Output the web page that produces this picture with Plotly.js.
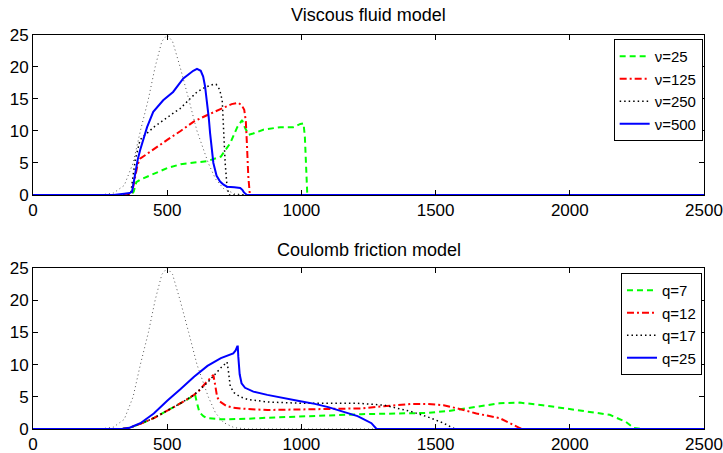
<!DOCTYPE html>
<html>
<head>
<meta charset="utf-8">
<script src="https://cdn.plot.ly/plotly-3.0.1.min.js"></script>
<style>html,body{margin:0;padding:0;background:#fff;}#chart{width:723px;height:453px;}</style>
</head>
<body>
<div id="chart"></div>
<script>
// ---- Data ----
const xTicks = [0, 500, 1000, 1500, 2000, 2500];
const yTicks = [0, 5, 10, 15, 20, 25];

// Input pulse (grey dotted, no legend) - same in both panels
const pulseX = [0,250,300,340,373,400,430,455,480,500,520,548,580,611,653,680,710,750,800,2500];
const pulseY = [0,0,0.3,1.5,5,10,15,20,24,25,24,20,15,10,5,2.5,1,0.2,0,0];

// Viscous fluid model
const v25X = [0,365,375,385,400,450,500,550,600,650,700,720,735,761,779,790,803,820,858,922,970,996,1008,1013,1018,1022,2500];
const v25Y = [0,0,0.5,2.0,2.4,3.3,4.2,4.8,5.1,5.3,6.0,7.2,8.1,10.6,11.7,10.5,9.4,9.6,10.2,10.6,10.6,11.1,11.2,9,3,0,0];

const v125X = [0,365,372,380,390,400,450,500,550,600,650,700,740,765,778,787,793,797,802,808,2500];
const v125Y = [0,0,1,3,4.8,5.7,7.2,8.6,10,11.5,12.5,13.5,14.2,14.4,14,13.3,11.5,8,3,0,0];

const v250X = [0,355,365,373,381,399,410,450,485,520,548,580,611,640,672,682,695,705,710,716,723,730,2500];
const v250Y = [0,0,0.5,3,5.5,8.6,9.1,10.6,11.7,12.7,13.5,14.8,16.1,16.8,17.3,17.3,16.5,14.8,10.2,5,1.3,0,0];

const v500X = [0,300,340,360,369,375,381,390,399,412,425,448,485,522,560,597,611,625,634,641,648,655,660,666,672,684,697,710,723,750,772,780,786,797,2500];
const v500Y = [0,0,0.2,0.3,0.5,2,3.9,5.5,7,9,10.6,13,14.8,16.1,18.2,19.4,19.7,19.4,18.5,17,14.8,12,9.6,7,5,3,2.1,1.6,1.3,1.2,1.1,0.8,0.4,0,0];

// Coulomb friction model
const q7X = [0,330,360,400,450,500,550,580,600,604,610,620,635,648,700,746,800,900,996,1100,1224,1410,1469,1550,1652,1738,1813,1899,2024,2149,2209,2239,2276,2500];
const q7Y = [0,0,0.2,0.8,1.7,2.8,4,4.7,5.1,5.3,4.2,2.6,2,1.7,1.5,1.5,1.6,1.8,1.9,2.1,2.3,2.4,2.5,2.8,3.5,4.0,4.1,3.7,2.95,2.2,1.1,0.15,0,0];

const q12X = [0,330,360,400,450,500,550,600,620,640,660,672,678,686,695,705,720,746,800,873,1000,1119,1224,1300,1410,1469,1530,1600,1652,1738,1791,1816,1830,2500];
const q12Y = [0,0,0.2,0.8,1.7,2.8,4,5.3,6,7,7.9,8.4,7,5,4.3,4,3.6,3.3,3.1,2.95,3,3.1,3.2,3.5,3.9,3.9,3.7,3.0,2.4,1.7,0.6,0.1,0,0];

const q17X = [0,330,360,400,450,500,550,600,650,700,723,728,735,750,772,800,873,996,1100,1209,1309,1410,1469,1530,1567,1580,2500];
const q17Y = [0,0,0.2,0.8,1.7,2.8,4,5.3,7.2,9.5,10.4,9,6.6,5.6,5.0,4.6,4.2,4.0,4.0,4.0,3.7,2.7,1.9,0.9,0.1,0,0];

const q25X = [0,330,360,400,450,500,550,600,650,700,746,755,761,763,765,770,777,790,821,873,996,1050,1100,1150,1209,1224,1261,1280,2500];
const q25Y = [0,0,0.2,0.9,2.4,4.4,6.2,8.1,9.8,11,11.75,12.2,12.8,12.8,11.2,8.5,7.1,6.4,5.8,5.3,4.3,3.9,3.4,2.8,2.0,1.7,0.9,0,0];

const names1 = ['\u03bd=25', '\u03bd=125', '\u03bd=250', '\u03bd=500'];
const names2 = ['q=7', 'q=12', 'q=17', 'q=25'];

// ---- Styles ----
const styles = [
  {color: '#00ff00', width: 2, dash: '6px,4px'},
  {color: '#ff0000', width: 2, dash: '7px,3px,2px,3px'},
  {color: '#000000', width: 1.5, dash: '1.5px,3px'},
  {color: '#0000ff', width: 2, dash: 'solid'}
];
const pulseStyle = {color: '#555555', width: 1, dash: '1px,3px'};

const traces = [];
traces.push({x: pulseX, y: pulseY, type: 'scatter', mode: 'lines', line: pulseStyle, showlegend: false, xaxis: 'x', yaxis: 'y', hoverinfo: 'skip'});
[[v25X,v25Y],[v125X,v125Y],[v250X,v250Y],[v500X,v500Y]].forEach((d,i) => {
  traces.push({x: d[0], y: d[1], type: 'scatter', mode: 'lines', name: names1[i], line: styles[i],
    xaxis: 'x', yaxis: 'y', legend: 'legend'});
});
traces.push({x: pulseX, y: pulseY, type: 'scatter', mode: 'lines', line: pulseStyle, showlegend: false, xaxis: 'x2', yaxis: 'y2', hoverinfo: 'skip'});
[[q7X,q7Y],[q12X,q12Y],[q17X,q17Y],[q25X,q25Y]].forEach((d,i) => {
  traces.push({x: d[0], y: d[1], type: 'scatter', mode: 'lines', name: names2[i], line: styles[i],
    xaxis: 'x2', yaxis: 'y2', legend: 'legend2'});
});

const fontFam = 'Liberation Sans, Arial, Helvetica, sans-serif';
const FS = 17;
function xa(anchor) {
  return {domain: [0, 1], range: [0, 2500], tickvals: xTicks, ticktext: xTicks.map(String),
    ticks: 'inside', ticklen: 5, tickcolor: '#000', showline: true, linecolor: '#000', linewidth: 1,
    mirror: 'ticks', showgrid: false, zeroline: false, anchor: anchor,
    tickfont: {family: fontFam, size: FS, color: '#000'}, fixedrange: true};
}
function ya(domain, anchor) {
  return {domain: domain, range: [0, 25], tickvals: yTicks, ticktext: yTicks.map(String),
    ticks: 'inside', ticklen: 5, tickcolor: '#000', showline: true, linecolor: '#000', linewidth: 1,
    mirror: 'ticks', showgrid: false, zeroline: false, anchor: anchor,
    tickfont: {family: fontFam, size: FS, color: '#000'}, fixedrange: true};
}
const legendBase = {bgcolor: '#fff', bordercolor: '#000', borderwidth: 1, xanchor: 'right', yanchor: 'top',
  font: {family: fontFam, size: 15, color: '#000'}, traceorder: 'normal'};

const layout = {
  width: 723, height: 453,
  margin: {l: 33, r: 19, t: 35, b: 24},
  paper_bgcolor: '#fff', plot_bgcolor: '#fff',
  font: {family: fontFam, size: FS, color: '#000'},
  xaxis: xa('y'),
  yaxis: ya([0.594, 1], 'x'),
  xaxis2: xa('y2'),
  yaxis2: ya([0, 0.4086], 'x2'),
  legend: Object.assign({}, legendBase, {x: 0.998, y: 0.99}),
  legend2: Object.assign({}, legendBase, {x: 0.997, y: 0.396}),
  annotations: [
    {text: 'Viscous fluid model', xref: 'paper', yref: 'paper', x: 0.5, y: 1.0508, showarrow: false,
     xanchor: 'center', yanchor: 'middle', font: {family: fontFam, size: 18, color: '#000'}},
    {text: 'Coulomb friction model', xref: 'paper', yref: 'paper', x: 0.5, y: 0.4543, showarrow: false,
     xanchor: 'center', yanchor: 'middle', font: {family: fontFam, size: 18, color: '#000'}}
  ],
  showlegend: true
};

Plotly.newPlot('chart', traces, layout, {staticPlot: true, displayModeBar: false});
</script>
</body>
</html>
